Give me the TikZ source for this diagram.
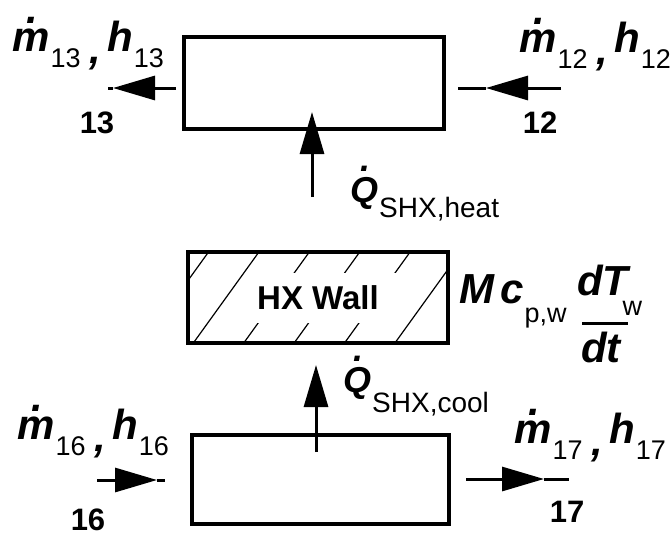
\documentclass[tikz,border=0pt]{standalone}
\usepackage{fontspec}
\setmainfont{Liberation Sans}
\usetikzlibrary{arrows.meta}
\newcommand{\fs}[1]{\fontsize{#1}{#1}\selectfont}
\newcommand{\bi}{\bfseries\itshape}
\newcommand{\dotacc}[3]{\ooalign{#1\cr\hidewidth\kern#3\raisebox{#2}{.}\hidewidth\cr}}
\newcommand{\flowlbl}[1]{{\fs{42}\bi\dotacc{m}{28pt}{3pt}}\kern1pt\raisebox{-16pt}{\fs{27}#1}\kern9pt\raisebox{-12pt}{\fs{42}\bi,}\kern6pt{\fs{42}\bi h}\kern1pt\raisebox{-16pt}{\fs{27}#1}}
\tikzset{
  flowbox/.style={draw, line width=4.5pt, inner sep=0pt},
  flowline/.style={line width=3pt},
  head/.style={-{Triangle[length=42pt,width=24pt]}},
  lbl/.style={inner sep=0pt, anchor=base west},
  num/.style={inner sep=0pt, font=\fs{31}\bfseries},
  hatch/.style={line width=1.2pt},
}
\begin{document}
\begin{tikzpicture}[x=1pt,y=-1pt]
\useasboundingbox (0,0) rectangle (672,536);
% boxes
\node[flowbox, minimum width=260pt, minimum height=92pt] (top) at (314,83) {};
\begin{scope}
  \clip (190,254) rectangle (446,341);
  \foreach \k in {0,...,5} {\draw[hatch] ({135+50.4*\k},354) -- ({215+50.4*\k},243);}
  \fill[white] (248,273) rectangle (402,323);
\end{scope}
\node[flowbox, minimum width=260pt, minimum height=91pt, font=\fs{33}\bfseries] (hx) at (318,297.5) {HX Wall};
\node[flowbox, minimum width=257pt, minimum height=89pt] (bot) at (320.5,479.5) {};
% arrow coordinates
\coordinate (a13s) at (176,88); \coordinate (a13t) at (113,88); \coordinate (a13e) at (108,88);
\coordinate (a12s) at (561,88); \coordinate (a12t) at (486,88); \coordinate (a12e) at (458,88);
\coordinate (a16s) at (97,480); \coordinate (a16t) at (157,480); \coordinate (a16e) at (165,480);
\coordinate (a17s) at (466,479); \coordinate (a17t) at (544,479); \coordinate (a17e) at (569,479);
\coordinate (qhs) at (312,197); \coordinate (qht) at (312,112);
\coordinate (qcs) at (316,452); \coordinate (qct) at (316,365);
\draw[flowline, head] (a13s) -- (a13t); \draw[flowline] (a13t) -- (a13e);
\draw[flowline, head] (a12s) -- (a12t); \draw[flowline] (a12t) -- (a12e);
\draw[flowline, head] (a16s) -- (a16t); \draw[flowline] (a16t) -- (a16e);
\draw[flowline, head] (a17s) -- (a17t); \draw[flowline] (a17t) -- (a17e);
\draw[flowline, head] (qhs) -- (qht);
\draw[flowline, head] (qcs) -- (qct);
% labels
\node[lbl] (l13) at (12,51) {\flowlbl{13}};
\node[lbl] (l12) at (519,52) {\flowlbl{12}};
\node[lbl] (l16) at (17,439) {\flowlbl{16}};
\node[lbl] (l17) at (514,443) {\flowlbl{17}};
\node[num] (n13) at (97,123) {13};
\node[num] (n12) at (540,123) {12};
\node[num] (n16) at (88,520) {16};
\node[num] (n17) at (567,512) {17};
\node[lbl] (qh) at (350,202) {{\fs{36}\bi\dotacc{Q}{31pt}{2pt}}\kern1pt\raisebox{-15pt}{\fs{28}SHX,heat}};
\node[lbl] (qc) at (343,392) {{\fs{36}\bi\dotacc{Q}{31pt}{2pt}}\kern1pt\raisebox{-20pt}{\fs{28}SHX,cool}};
\node[lbl] (mc) at (459,303) {{\fs{42}\bi M\kern6pt c}\kern1pt\raisebox{-19pt}{\fs{27}p,w}};
\node[lbl] (dT) at (577,295) {{\fs{42}\bi dT}\kern-6pt\raisebox{-20pt}{\fs{27}w}};
\coordinate (fb1) at (582,323); \coordinate (fb2) at (628,323);
\draw[line width=3pt] (fb1) -- (fb2);
\node[lbl] (dt) at (581,362) {\fs{42}\bi dt};
\end{tikzpicture}
\end{document}
